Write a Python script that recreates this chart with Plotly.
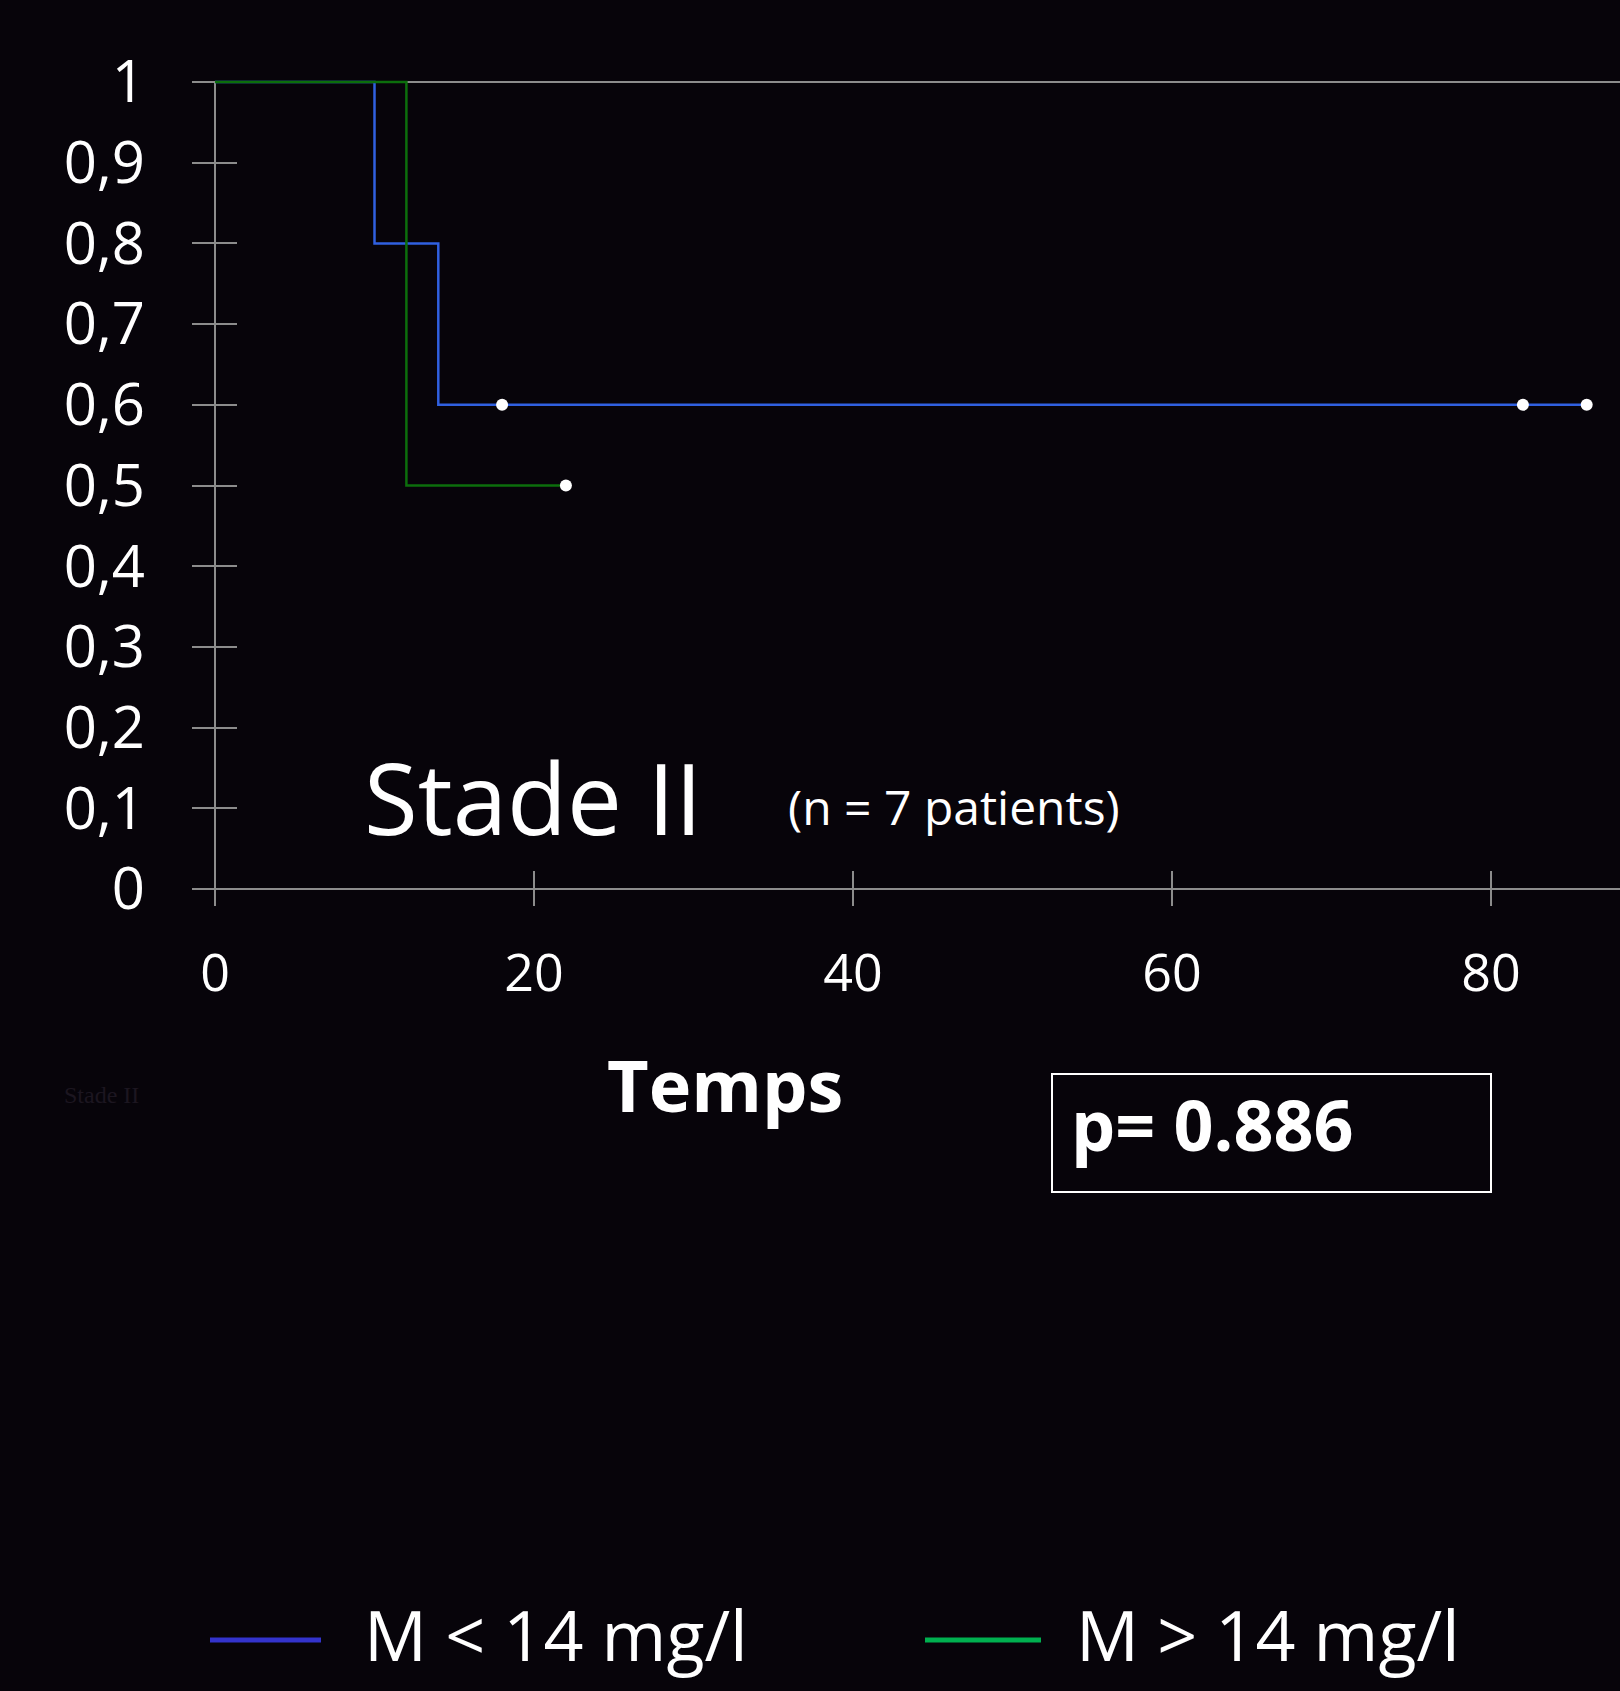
import plotly.graph_objects as go

# ---- data ----
blue_time = [0, 10, 14, 18, 82, 86]
blue_surv = [1.0, 0.8, 0.6, 0.6, 0.6, 0.6]
blue_cens_time = [18, 82, 86]
blue_cens_surv = [0.6, 0.6, 0.6]

green_time = [0, 12, 22]
green_surv = [1.0, 0.5, 0.5]
green_cens_time = [22]
green_cens_surv = [0.5]

x_tickvals = [0, 20, 40, 60, 80]
y_tickvals = [0, 0.1, 0.2, 0.3, 0.4, 0.5, 0.6, 0.7, 0.8, 0.9, 1.0]
y_ticktext = ["0", "0,1", "0,2", "0,3", "0,4", "0,5", "0,6", "0,7", "0,8", "0,9", "1"]

legend_labels = ["M < 14 mg/l", "M > 14 mg/l"]
p_text = "p= 0.886"

# ---- geometry (pixels) ----
W, H = 1620, 1691
L, R, T, B = 192, 1620, 70, 906  # plot area
FONT = "Open Sans"
BLUE = "#3060e0"
GREEN = "#0c6e0c"
GRAY = "#8c8c8c"

def px(x):
    return (x - L) / (R - L)

def py(y):
    return (B - y) / (B - T)

fig = go.Figure()

fig.add_trace(go.Scatter(x=blue_time, y=blue_surv, mode="lines", line_shape="hv",
                         line=dict(color=BLUE, width=2.5), showlegend=False))
fig.add_trace(go.Scatter(x=green_time, y=green_surv, mode="lines", line_shape="hv",
                         line=dict(color=GREEN, width=2.5), showlegend=False))
fig.add_trace(go.Scatter(x=blue_cens_time, y=blue_cens_surv, mode="markers",
                         marker=dict(color="white", size=12), showlegend=False))
fig.add_trace(go.Scatter(x=green_cens_time, y=green_cens_surv, mode="markers",
                         marker=dict(color="white", size=12), showlegend=False))

# axes lines: top line at 1 and vertical axis at 0
fig.add_shape(type="line", xref="paper", yref="y", x0=0, x1=1, y0=1, y1=1,
              line=dict(color=GRAY, width=2), layer="below")
fig.add_shape(type="line", xref="x", yref="paper", x0=0, x1=0, y0=0, y1=py(82),
              line=dict(color=GRAY, width=2), layer="below")

# annotations
anns = []
anns.append(dict(x=px(362), y=py(797), xref="paper", yref="paper", text="Stade II",
                 showarrow=False, xanchor="left", yanchor="middle",
                 font=dict(family=FONT, size=98, color="white")))
anns.append(dict(x=px(786), y=py(806), xref="paper", yref="paper", text="(n = 7 patients)",
                 showarrow=False, xanchor="left", yanchor="middle",
                 font=dict(family=FONT, size=48, color="white")))
anns.append(dict(x=px(725), y=py(1084), xref="paper", yref="paper", text="<b>Temps</b>",
                 showarrow=False, xanchor="center", yanchor="middle",
                 font=dict(family=FONT, size=72, color="white")))
anns.append(dict(x=px(1069), y=py(1124), xref="paper", yref="paper", text="<b>" + p_text + "</b>",
                 showarrow=False, xanchor="left", yanchor="middle",
                 font=dict(family=FONT, size=70, color="white")))
anns.append(dict(x=px(62), y=py(1095), xref="paper", yref="paper", text="Stade II",
                 showarrow=False, xanchor="left", yanchor="middle",
                 font=dict(family="Liberation Serif", size=24, color="#1c1620")))

# legend (manual)
leg_items = [(210, 321, "#3333cc", 362, legend_labels[0]),
             (925, 1041, "#00b050", 1074, legend_labels[1])]
for x0, x1, col, tx, lab in leg_items:
    fig.add_shape(type="line", xref="paper", yref="paper", x0=px(x0), x1=px(x1),
                  y0=py(1640), y1=py(1640), line=dict(color=col, width=5))
    anns.append(dict(x=px(tx), y=py(1634), xref="paper", yref="paper", text=lab,
                     showarrow=False, xanchor="left", yanchor="middle",
                     font=dict(family=FONT, size=70, color="white")))

# p-value box
fig.add_shape(type="rect", xref="paper", yref="paper", x0=px(1052), x1=px(1491),
              y0=py(1192), y1=py(1074), line=dict(color="white", width=2))

x_per_px = 15.95
y_per_px = 807.0
fig.update_layout(
    width=W, height=H,
    margin=dict(l=L, r=W - R, t=T, b=H - B),
    paper_bgcolor="#07040a",
    plot_bgcolor="rgba(0,0,0,0)",
    annotations=anns,
    showlegend=False,
    xaxis=dict(range=[-(215 - L) / x_per_px, (R - 215) / x_per_px],
               tickvals=x_tickvals, ticks="inside", ticklen=35, tickwidth=2, tickcolor=GRAY,
               showgrid=False, zeroline=False, showline=False, layer="below traces",
               ticklabelstandoff=32,
               tickfont=dict(family=FONT, size=52, color="white")),
    yaxis=dict(range=[-(B - 889) / y_per_px, 1 + (82 - T) / y_per_px],
               tickvals=y_tickvals, ticktext=y_ticktext,
               ticks="inside", ticklen=45, tickwidth=2, tickcolor=GRAY,
               showgrid=False, zeroline=True, zerolinecolor=GRAY, zerolinewidth=2,
               showline=False, ticklabelstandoff=46, layer="below traces",
               tickfont=dict(family=FONT, size=58, color="white")),
)

fig.write_html("out.html", config={"displayModeBar": False},
               post_script="document.body.style.margin='0';document.body.style.background='#07040a';")
